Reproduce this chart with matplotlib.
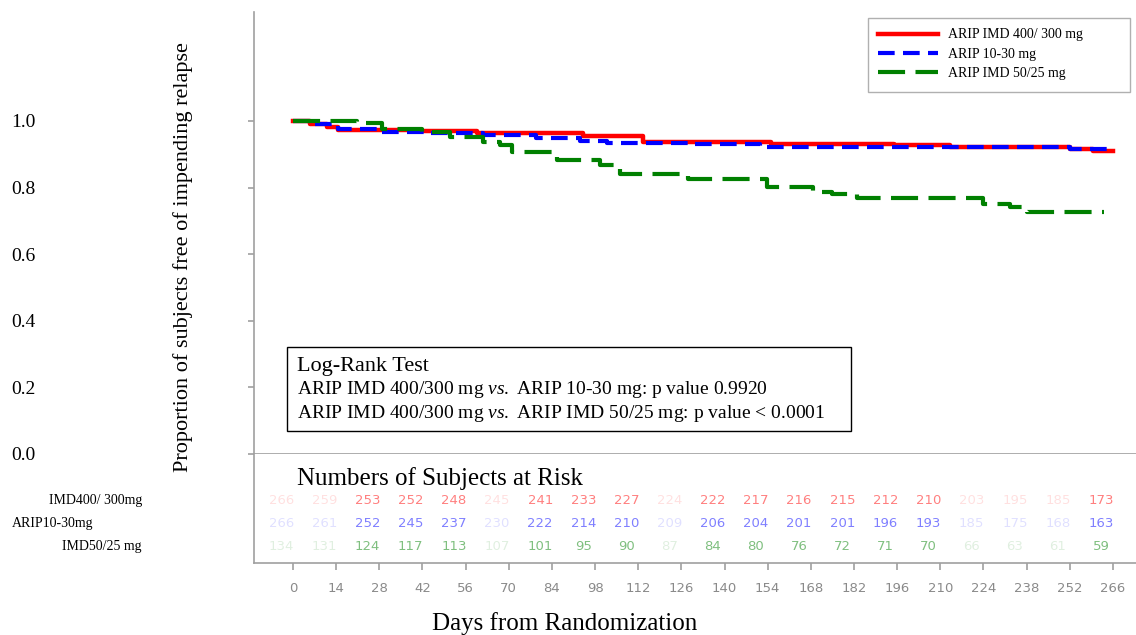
import matplotlib
matplotlib.use("Agg")
import matplotlib.pyplot as plt
import matplotlib.transforms as mtransforms
from matplotlib.patches import Rectangle

plt.rcParams['font.family'] = ['Liberation Serif', 'DejaVu Sans']
plt.rcParams['mathtext.fontset'] = 'custom'
plt.rcParams['mathtext.rm'] = 'Liberation Serif'
plt.rcParams['mathtext.it'] = 'Liberation Serif:italic'

# ---- data ----
# Kaplan-Meier step curves (day of step, survival after step)
imd400_days = [0, 5.5, 11, 14.6, 42, 59.7, 94, 113.5, 155, 195, 213, 252, 259.5, 266]
imd400_surv = [1.0, 0.991, 0.981, 0.974, 0.970, 0.964, 0.955, 0.938, 0.931, 0.927, 0.921, 0.916, 0.909, 0.909]

oral_days = [0, 7, 14.6, 29, 43.5, 61.6, 79, 93, 102, 128, 151.5, 212, 252, 266]
oral_surv = [1.0, 0.991, 0.975, 0.967, 0.963, 0.958, 0.950, 0.941, 0.935, 0.931, 0.923, 0.921, 0.916, 0.916]

imd50_days = [0, 20.8, 29, 42, 51, 61.6, 67, 71, 85.6, 99.6, 106, 128, 153.7, 168.7,
              175, 183, 224, 232.6, 238, 263]
imd50_surv = [1.0, 0.993, 0.975, 0.968, 0.951, 0.938, 0.928, 0.908, 0.883, 0.868, 0.841,
              0.825, 0.801, 0.788, 0.781, 0.770, 0.751, 0.741, 0.728, 0.728]

series_labels = ['ARIP IMD 400/ 300 mg', 'ARIP 10-30 mg', 'ARIP IMD 50/25 mg']

# numbers at risk
risk_days = [0, 14, 28, 42, 56, 70, 84, 98, 112, 126, 140, 154, 168, 182, 196, 210, 224, 238, 252, 266]
risk_imd400 = [266, 259, 253, 252, 248, 245, 241, 233, 227, 224, 222, 217, 216, 215, 212, 210, 203, 195, 185, 173]
risk_oral = [266, 261, 252, 245, 237, 230, 222, 214, 210, 209, 206, 204, 201, 201, 196, 193, 185, 175, 168, 163]
risk_imd50 = [134, 131, 124, 117, 113, 107, 101, 95, 90, 87, 84, 80, 76, 72, 71, 70, 66, 63, 61, 59]
# columns that are barely legible in the reference
risk_faint = [0, 1, 5, 9, 16, 17, 18]
risk_row_labels = ['IMD400/ 300mg', 'ARIP10-30mg', 'IMD50/25 mg']

yticks = [0.0, 0.2, 0.4, 0.6, 0.8, 1.0]

W, H = 1136, 635
fig = plt.figure(figsize=(W / 100, H / 100), dpi=100)
gray = '#a0a0a0'

ax = fig.add_axes([254 / W, 1 - 454 / H, 882 / W, 442 / H])
ax.set_xlim(-12.65, 273.5)
ax.set_ylim(0, 1.327)

ax.step(imd400_days, imd400_surv, where='post', color='#ff0000', lw=3.2,
        label=series_labels[0])
ax.step(oral_days, oral_surv, where='post', color='#0000ff', lw=3.0,
        dashes=(4, 2), label=series_labels[1])
ax.step(imd50_days, imd50_surv, where='post', color='#008000', lw=3.0,
        dashes=(6.5, 2.5), label=series_labels[2])

for s in ['top', 'right']:
    ax.spines[s].set_visible(False)
for s in ['left', 'bottom']:
    ax.spines[s].set_color(gray)
    ax.spines[s].set_linewidth(1.2)
ax.set_yticks(yticks)
ax.set_yticklabels([f'{v:.1f}' for v in yticks])
ax.tick_params(axis='y', length=4.3, color=gray, width=1.2, pad=153, labelsize=14)
ax.tick_params(axis='x', bottom=False, labelbottom=False)

# legend (frame drawn separately: the reference box has extra room on the right)
leg = ax.legend(loc='upper left', bbox_to_anchor=(868 / W, 1 - 18 / H),
                bbox_transform=fig.transFigure, borderaxespad=0, fontsize=10,
                handlelength=4.3, handletextpad=0.7, labelspacing=0.45,
                frameon=False, borderpad=0.75)
fig.add_artist(Rectangle((868 / W, 1 - 92 / H), (1130 - 868) / W, (92 - 18) / H,
                         transform=fig.transFigure, fill=False, ec='#b0b0b0', lw=1.0))

# y axis title
fig.text(183 / W, 1 - 257 / H, 'Proportion of subjects free of impending relapse',
         rotation=90, ha='center', va='center', fontsize=16)

# log-rank box
fig.add_artist(Rectangle((287 / W, 1 - 431 / H), (851 - 287) / W, (431 - 347) / H,
                         transform=fig.transFigure, fill=False, ec='black', lw=1.0))
fig.text(297 / W, 1 - 367 / H, 'Log-Rank Test', ha='left', va='center', fontsize=16)
fig.text(297 / W, 1 - 390 / H,
         'ARIP IMD 400/300 mg $\\it{vs.}$ ARIP 10-30 mg: p value 0.9920',
         ha='left', va='center', fontsize=14)
fig.text(297 / W, 1 - 413 / H,
         'ARIP IMD 400/300 mg $\\it{vs.}$ ARIP IMD 50/25 mg: p value < 0.0001',
         ha='left', va='center', fontsize=14)

# numbers at risk panel
axr = fig.add_axes([254 / W, 1 - 563 / H, 882 / W, 109 / H])
axr.set_xlim(-12.65, 273.5)
axr.set_ylim(3.74, -1.06)
for s in ['top', 'right']:
    axr.spines[s].set_visible(False)
for s in ['left', 'bottom']:
    axr.spines[s].set_color(gray)
    axr.spines[s].set_linewidth(1.2)
axr.set_yticks([])
axr.set_xticks(risk_days)
axr.set_xticklabels([str(d) for d in risk_days], fontfamily='DejaVu Sans',
                    fontsize=9.5, color='#8a8a8a')
axr.tick_params(axis='x', length=5, color=gray, width=1.2, pad=9)

axr.text(1.3, 0, 'Numbers of Subjects at Risk', ha='left', va='center', fontsize=18)

row_colors = ['#ff0000', '#0000ff', '#008000']
for r, vals in enumerate([risk_imd400, risk_oral, risk_imd50]):
    for i, (d, n) in enumerate(zip(risk_days, vals)):
        a = 0.12 if i in risk_faint else 0.5
        axr.text(d - 3.8, r + 1, str(n), ha='center', va='center', fontsize=9.5,
                 fontfamily='DejaVu Sans', color=row_colors[r], alpha=a)

lab_tr = mtransforms.blended_transform_factory(fig.transFigure, axr.transData)
axr.text(142 / W, 1, risk_row_labels[0], transform=lab_tr, ha='right', va='center', fontsize=10)
axr.text(12 / W, 2, risk_row_labels[1], transform=lab_tr, ha='left', va='center', fontsize=10)
axr.text(142 / W, 3, risk_row_labels[2], transform=lab_tr, ha='right', va='center', fontsize=10)

fig.text(565 / W, 1 - 624 / H, 'Days from Randomization', ha='center', va='center', fontsize=18)

fig.savefig('out.png', dpi=100)
